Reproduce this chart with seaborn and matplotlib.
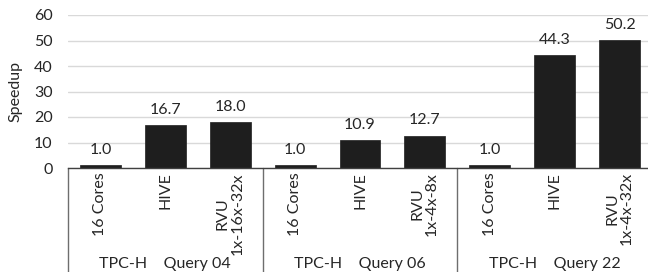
import matplotlib
matplotlib.use("Agg")
import matplotlib.pyplot as plt
import matplotlib.transforms as mtransforms
import seaborn as sns
import pandas as pd

# ---- data ----
groups = ["TPC-H    Query 04", "TPC-H    Query 06", "TPC-H    Query 22"]
configs = [
    ["16 Cores", "HIVE", "RVU\n1x-16x-32x"],
    ["16 Cores", "HIVE", "RVU\n1x-4x-8x"],
    ["16 Cores", "HIVE", "RVU\n1x-4x-32x"],
]
speedups = [
    [1.0, 16.7, 18.0],
    [1.0, 10.9, 12.7],
    [1.0, 44.3, 50.2],
]
y_ticks = [0, 10, 20, 30, 40, 50, 60]

keys, labels, vals = [], [], []
for gi, g in enumerate(groups):
    for ci, c in enumerate(configs[gi]):
        keys.append(f"{gi}-{ci}")
        labels.append(c)
        vals.append(speedups[gi][ci])
df = pd.DataFrame({"key": keys, "speedup": vals})

sns.set_theme(style="white")
plt.rcParams["font.family"] = ["Lato", "DejaVu Sans"]
TXT = "#262626"
LINE = "#6e6e6e"
FS = 11.5

fig = plt.figure(figsize=(6.48, 2.72), dpi=100)
ax = fig.add_axes([68 / 648, 104 / 272, 584 / 648, 153 / 272])

sns.barplot(data=df, x="key", y="speedup", order=keys, color="#1e1e1e",
            width=0.63, saturation=1, ax=ax, edgecolor="#1e1e1e", linewidth=0.5)

ax.set_xlim(-0.5, len(keys) - 0.5)
ax.set_ylim(0, 60)
ax.set_yticks(y_ticks)
ax.set_yticklabels([str(t) for t in y_ticks], fontsize=FS, color=TXT)
ax.yaxis.grid(True, color="#d9d9d9", linewidth=1.0)
ax.set_axisbelow(True)
ax.tick_params(axis="y", length=0, pad=11)
ax.tick_params(axis="x", length=0, pad=3)

ax.set_xticks(range(len(keys)))
ax.set_xticklabels(labels, rotation=90, fontsize=FS, color=TXT,
                   ha="center", va="top", multialignment="center",
                   linespacing=1.05)
ax.set_xlabel("")
ax.set_ylabel("Speedup", fontsize=FS, color=TXT, labelpad=8)

for s in ["top", "right", "left"]:
    ax.spines[s].set_visible(False)
ax.spines["bottom"].set_color("#404040")
ax.spines["bottom"].set_linewidth(1.0)

ax.bar_label(ax.containers[0], fmt="%.1f", padding=6, fontsize=FS, color=TXT)

trans = mtransforms.blended_transform_factory(ax.transData, ax.transAxes)
for b in [-0.5, 2.5, 5.5, 8.5]:
    ax.plot([b, b], [0, -0.7], transform=trans, color=LINE, linewidth=1.0,
            clip_on=False)
for gi, g in enumerate(groups):
    ax.text(gi * 3 + 1, -0.625, g, transform=trans, ha="center", va="center",
            fontsize=FS, color=TXT)

fig.savefig("out.png", dpi=100)
